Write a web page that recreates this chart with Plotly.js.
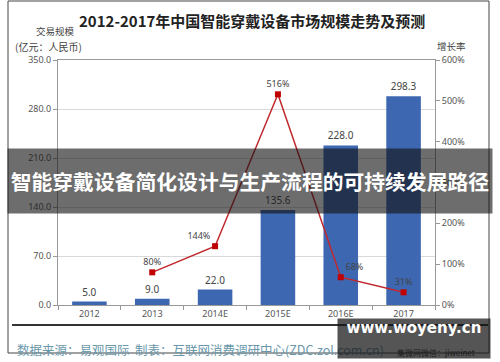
<!DOCTYPE html>
<html><head><meta charset="utf-8">
<script src="https://cdn.plot.ly/plotly-3.0.1.min.js"></script>
<style>html,body{margin:0;padding:0;background:#fff}#c{width:500px;height:362px}</style>
</head><body><div id="c"></div>
<script>
const categories = ['2012','2013','2014E','2015E','2016E','2017'];
const marketSize = [5.0, 9.0, 22.0, 135.6, 228.0, 298.3];
const growthCats = ['2013','2014E','2015E','2016E','2017'];
const growthRate = [80, 144, 516, 68, 31];
const growthLabelPos = ['top center','top left','top center','top right','top center'];
const leftTicks = [0, 70, 140, 210, 280, 350];
const rightTicks = [0, 100, 200, 300, 400, 500, 600];

const L = 58, R = 435, T = 60, B = 305;
const W = R - L, H = B - T;
const px = v => (v - L) / W;
const py = v => (B - v) / H;
const cjk = '"Noto Sans CJK SC", "Noto Sans", sans-serif';
const tickFont = {family: '"Noto Sans", "DejaVu Sans", sans-serif', size: 9, color: '#555'};

const traces = [
  {type:'bar', x:categories, y:marketSize, marker:{color:'#3d67b1'}, width:0.55,
   text:marketSize.map(v=>v.toFixed(1)), textposition:'outside', cliponaxis:false,
   textfont:{family:'"Noto Sans", sans-serif', size:10, color:'#444'}, hoverinfo:'skip'},
  {type:'scatter', mode:'lines+markers+text', x:growthCats, y:growthRate, yaxis:'y2',
   line:{color:'#c0282d', width:1.5}, marker:{symbol:'square', size:6, color:'#c00000'},
   text:growthRate.map(v=>v+'%'), textposition:growthLabelPos, cliponaxis:false,
   textfont:{family:'"Noto Sans", sans-serif', size:9, color:'#444'}, hoverinfo:'skip'}
];

const ann = (x,y,text,opts={}) => Object.assign({xref:'paper', yref:'paper', x:px(x), y:py(y), text, showarrow:false,
  xanchor:'center', yanchor:'middle', font:{family:cjk, size:9, color:'#444'}}, opts);

const layout = {
  width:500, height:362, margin:{l:L, r:500-R, t:T, b:362-B},
  paper_bgcolor:'#fff', plot_bgcolor:'#fff', showlegend:false,
  xaxis:{type:'category', categoryorder:'array', categoryarray:categories, tickfont:tickFont,
    showline:true, linecolor:'#999', mirror:true, ticks:'outside', tickson:'boundaries', ticklen:4, tickcolor:'#999',
    showgrid:false, fixedrange:true},
  yaxis:{range:[0,350], tickvals:leftTicks, ticktext:leftTicks.map(v=>v.toFixed(1)), tickfont:tickFont,
    showline:true, linecolor:'#999', ticks:'outside', ticklen:4, tickcolor:'#999',
    showgrid:true, gridcolor:'#d9d9d9', zeroline:false},
  yaxis2:{overlaying:'y', side:'right', range:[0,600], tickvals:rightTicks, ticktext:rightTicks.map(v=>v+'%'),
    tickfont:tickFont, showline:true, linecolor:'#999', ticks:'outside', ticklen:4, tickcolor:'#999',
    showgrid:false, zeroline:false},
  shapes:[
    {type:'rect', xref:'paper', yref:'paper', x0:px(8), x1:px(489), y0:py(1), y1:py(353), line:{color:'#444', width:1}},
    {type:'line', xref:'paper', yref:'paper', x0:px(12), x1:px(488), y0:py(325), y1:py(325), line:{color:'#333', width:2}}
  ],
  annotations:[
    ann(252,20,'<b>2012-2017年中国智能穿戴设备市场规模走势及预测</b>',{font:{family:cjk, size:15, color:'#222'}}),
    ann(55,31.5,'交易规模',{font:{family:cjk, size:9.5, color:'#444'}}),
    ann(48,46.5,'(亿元：人民币)',{font:{family:cjk, size:10, color:'#444'}}),
    ann(451,46,'增长率',{font:{family:cjk, size:9.5, color:'#444'}}),
    ann(15,349,'数据来源：易观国际  制表：互联网消费调研中心(ZDC.zol.com.cn)',{xanchor:'left', font:{family:cjk, size:12.5, color:'#6a98ab'}}),
    ann(436,352,'集微网微信：jiweinet',{font:{family:cjk, size:8, color:'#333'}}),
    ann(250,181,'<b>智能穿戴设备简化设计与生产流程的可持续发展路径</b>',{width:484, height:64, bgcolor:'rgba(20,20,20,0.62)',
      borderpad:0, font:{family:cjk, size:20.8, color:'#fff'}}),
    ann(414,338.5,'<b>www.woyeny.cn</b>',{width:152, height:39, bgcolor:'rgba(20,20,20,0.72)', borderpad:0, valign:'top',
      font:{family:'"DejaVu Sans", sans-serif', size:15, color:'#fff'}})
  ]
};
Plotly.newPlot('c', traces, layout, {staticPlot:true, displayModeBar:false});
</script></body></html>
